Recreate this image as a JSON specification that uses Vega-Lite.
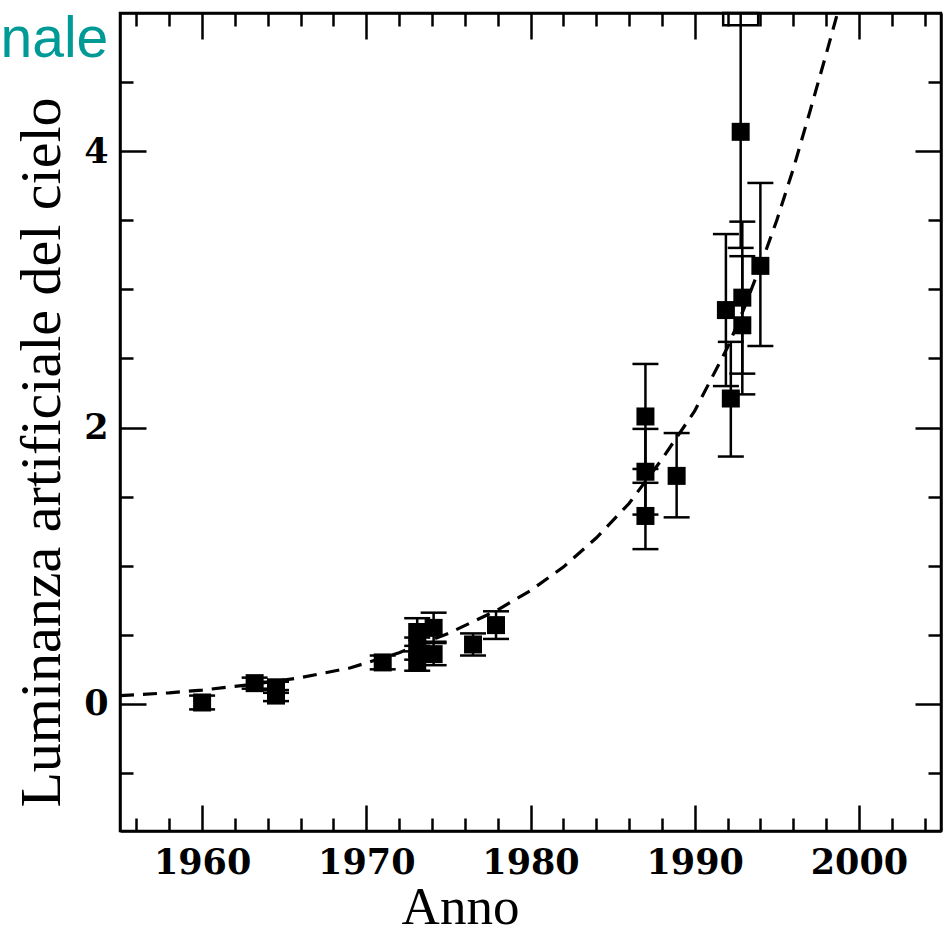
{
  "$schema": "https://vega.github.io/schema/vega-lite/v6.json",
  "width": 821,
  "height": 818,
  "autosize": {"type": "none"},
  "padding": {"left": 120, "top": 13, "right": 5, "bottom": 104},
  "background": "white",
  "config": {
    "view": {"stroke": "black", "strokeWidth": 2.5},
    "axis": {"grid": false, "domainColor": "black", "domainWidth": 2.5, "tickColor": "black", "tickWidth": 2.5, "labelColor": "black", "titleColor": "black", "labelOverlap": false, "labelFlush": false}
  },
  "datasets": {
    "curve": [
      {"yr": 1955, "v": 0.06}, {"yr": 1958, "v": 0.08}, {"yr": 1960, "v": 0.10}, {"yr": 1963, "v": 0.14},
      {"yr": 1966, "v": 0.19}, {"yr": 1969, "v": 0.26}, {"yr": 1972, "v": 0.37}, {"yr": 1975, "v": 0.51},
      {"yr": 1978, "v": 0.68}, {"yr": 1980, "v": 0.82}, {"yr": 1982, "v": 0.99}, {"yr": 1984, "v": 1.20},
      {"yr": 1986, "v": 1.45}, {"yr": 1988, "v": 1.77}, {"yr": 1990, "v": 2.12}, {"yr": 1992, "v": 2.58},
      {"yr": 1993, "v": 2.86}, {"yr": 1994, "v": 3.17}, {"yr": 1995, "v": 3.50}, {"yr": 1996, "v": 3.87},
      {"yr": 1997, "v": 4.28}, {"yr": 1998, "v": 4.70}, {"yr": 1998.7, "v": 5.0}
    ],
    "pts": [
      {"yr": 1960.0, "v": 0.01, "lo": -0.04, "hi": 0.06},
      {"yr": 1963.2, "v": 0.15, "lo": 0.11, "hi": 0.19},
      {"yr": 1964.5, "v": 0.12, "lo": 0.08, "hi": 0.16},
      {"yr": 1964.5, "v": 0.06, "lo": 0.02, "hi": 0.10},
      {"yr": 1971.0, "v": 0.30, "lo": 0.25, "hi": 0.35},
      {"yr": 1973.1, "v": 0.52, "lo": 0.42, "hi": 0.62},
      {"yr": 1973.1, "v": 0.40, "lo": 0.32, "hi": 0.48},
      {"yr": 1973.1, "v": 0.30, "lo": 0.24, "hi": 0.38},
      {"yr": 1974.1, "v": 0.55, "lo": 0.45, "hi": 0.66},
      {"yr": 1974.1, "v": 0.36, "lo": 0.28, "hi": 0.44},
      {"yr": 1976.5, "v": 0.43, "lo": 0.35, "hi": 0.51},
      {"yr": 1977.9, "v": 0.57, "lo": 0.47, "hi": 0.67},
      {"yr": 1987.0, "v": 2.08, "lo": 1.70, "hi": 2.46},
      {"yr": 1987.0, "v": 1.68, "lo": 1.37, "hi": 1.99},
      {"yr": 1987.0, "v": 1.36, "lo": 1.12, "hi": 1.60},
      {"yr": 1988.9, "v": 1.65, "lo": 1.35, "hi": 1.96},
      {"yr": 1991.9, "v": 2.85, "lo": 2.30, "hi": 3.40},
      {"yr": 1992.2, "v": 2.21, "lo": 1.79, "hi": 2.62},
      {"yr": 1992.8, "v": 4.14, "lo": 3.30, "hi": 5.0},
      {"yr": 1992.9, "v": 2.94, "lo": 2.39, "hi": 3.49},
      {"yr": 1992.9, "v": 2.74, "lo": 2.24, "hi": 3.24},
      {"yr": 1994.0, "v": 3.17, "lo": 2.59, "hi": 3.77}
    ],
    "limit": [{"yr": 1992.8, "v": 4.955}]
  },
  "layer": [
    {
      "data": {"name": "curve"},
      "mark": {"type": "line", "stroke": "black", "strokeWidth": 3.2, "strokeDash": [14, 9], "clip": true},
      "encoding": {
        "x": {"field": "yr", "type": "quantitative", "scale": {"domain": [1955, 2005], "nice": false, "zero": false},
          "axis": {"orient": "bottom", "values": [1956,1958,1960,1962,1964,1966,1968,1970,1972,1974,1976,1978,1980,1982,1984,1986,1988,1990,1992,1994,1996,1998,2000,2002,2004],
            "labelExpr": "datum.value % 10 === 0 ? format(datum.value, 'd') : ''",
            "tickSize": {"condition": {"test": "datum.value % 10 === 0", "value": -26}, "value": -13},
            "labelPadding": 40, "labelFont": "DejaVu Serif", "labelFontSize": 35, "labelFontWeight": "bold",
            "title": "Anno", "titleFont": "Liberation Serif", "titleFontSize": 53, "titleFontWeight": "normal", "titleX": 340, "titlePadding": -12}},
        "y": {"field": "v", "type": "quantitative", "scale": {"domain": [-0.92, 5], "nice": false, "zero": false},
          "axis": {"orient": "left", "values": [-0.5,0,0.5,1,1.5,2,2.5,3,3.5,4,4.5],
            "labelExpr": "datum.value % 2 === 0 ? format(datum.value, 'd') : ''",
            "tickSize": {"condition": {"test": "datum.value % 2 === 0", "value": -26}, "value": -13},
            "labelPadding": 38, "labelFont": "DejaVu Serif", "labelFontSize": 35, "labelFontWeight": "bold",
            "title": "Luminanza artificiale del cielo", "titleFont": "Liberation Serif", "titleFontSize": 58, "titleFontWeight": "normal", "titlePadding": 12, "titleY": 439}}
      }
    },
    {
      "data": {"name": "pts"},
      "mark": {"type": "rule", "stroke": "black", "strokeWidth": 2.5, "clip": true},
      "encoding": {
        "x": {"field": "yr", "type": "quantitative",
          "axis": {"orient": "top", "values": [1956,1958,1960,1962,1964,1966,1968,1970,1972,1974,1976,1978,1980,1982,1984,1986,1988,1990,1992,1994,1996,1998,2000,2002,2004],
            "labels": false,
            "tickSize": {"condition": {"test": "datum.value % 10 === 0", "value": -26}, "value": -13},
            "title": "nale", "titleFont": "Liberation Sans", "titleFontSize": 57, "titleFontWeight": "normal", "titleColor": "#009A96",
            "titleAlign": "left", "titleBaseline": "alphabetic", "titleAngle": 0, "titleX": -120, "titleY": 43}},
        "y": {"field": "lo", "type": "quantitative",
          "axis": {"orient": "right", "values": [-0.5,0,0.5,1,1.5,2,2.5,3,3.5,4,4.5],
            "labels": false, "title": null,
            "tickSize": {"condition": {"test": "datum.value % 2 === 0", "value": -26}, "value": -13}}},
        "y2": {"field": "hi"}
      }
    },
    {
      "data": {"name": "pts"},
      "mark": {"type": "tick", "orient": "horizontal", "color": "black", "size": 26, "thickness": 2.5, "opacity": 1},
      "encoding": {
        "x": {"field": "yr", "type": "quantitative", "axis": null},
        "y": {"field": "lo", "type": "quantitative", "axis": null}
      }
    },
    {
      "data": {"name": "pts"},
      "transform": [{"filter": "datum.hi < 4.99"}],
      "mark": {"type": "tick", "orient": "horizontal", "color": "black", "size": 26, "thickness": 2.5, "opacity": 1},
      "encoding": {
        "x": {"field": "yr", "type": "quantitative", "axis": null},
        "y": {"field": "hi", "type": "quantitative", "axis": null}
      }
    },
    {
      "data": {"name": "pts"},
      "mark": {"type": "point", "shape": "square", "filled": true, "color": "black", "size": 324, "opacity": 1},
      "encoding": {
        "x": {"field": "yr", "type": "quantitative", "axis": null},
        "y": {"field": "v", "type": "quantitative", "axis": null}
      }
    },
    {
      "data": {"name": "limit"},
      "mark": {"type": "point", "shape": "M-1,-0.35H1V0.35H-1Z", "filled": false, "stroke": "black", "strokeWidth": 2.5, "size": 1225, "opacity": 1},
      "encoding": {
        "x": {"field": "yr", "type": "quantitative", "axis": null},
        "y": {"field": "v", "type": "quantitative", "axis": null}
      }
    }
  ],
  "resolve": {"axis": {"x": "independent", "y": "independent"}}
}
